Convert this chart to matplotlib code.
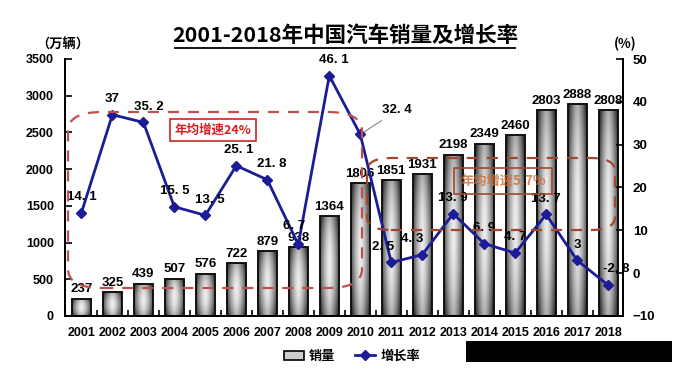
import numpy as np
import matplotlib.pyplot as plt
from matplotlib.patches import FancyBboxPatch, Patch, Rectangle
from matplotlib.lines import Line2D

years = [str(y) for y in range(2001, 2019)]
sales = [237, 325, 439, 507, 576, 722, 879, 938, 1364, 1806, 1851, 1931,
         2198, 2349, 2460, 2803, 2888, 2808]
growth = [14.1, 37, 35.2, 15.5, 13.5, 25.1, 21.8, 6.7, 46.1, 32.4, 2.5, 4.3,
          13.9, 6.9, 4.7, 13.7, 3, -2.8]

NUM = ['Liberation Sans', 'Noto Sans CJK SC']
CJK = ['Noto Sans CJK SC', 'DejaVu Sans']
plt.rcParams['font.family'] = NUM
plt.rcParams['font.weight'] = 'bold'

W, H = 685, 379
fig = plt.figure(figsize=(W / 100, H / 100), dpi=100)


def fx(px):
    return px / W


def fy(py):
    return 1 - py / H


ax = fig.add_axes([fx(65), fy(316), fx(623) - fx(65), fy(59) - fy(316)])
ax2 = ax.twinx()

x = np.arange(len(years))
bar_w = 0.61

# bars with grey gradient
bars = ax.bar(x, sales, bar_w, color='none', edgecolor='#111111',
              linewidth=1.4, zorder=3)
u = np.linspace(-1, 1, 60)
v = np.linspace(-1, 1, 80)
U, V = np.meshgrid(u, v)
shade = 0.93 - 0.6 * np.abs(U) ** 1.5 - 0.25 * np.abs(V) ** 2
for b in bars:
    im = ax.imshow(shade, cmap='gray', vmin=0, vmax=1, aspect='auto',
                   extent=[b.get_x(), b.get_x() + b.get_width(), 0, b.get_height()],
                   zorder=2)
    im.set_clip_path(b)

ax.set_xlim(-0.53, len(years) - 0.52)
ax.set_ylim(0, 3500)
ax.set_yticks(range(0, 3501, 500))
ax.set_xticks(x)
ax.set_xticklabels(years)
ax.set_xticks(x[:-1] + 0.5, minor=True)
ax.tick_params(axis='x', which='major', length=0, pad=8, labelsize=9)
ax.tick_params(axis='x', which='minor', direction='in', length=4, width=1.2)
ax.tick_params(axis='y', direction='in', length=5, width=1.2, pad=8, labelsize=9)

for s in ['top']:
    ax.spines[s].set_visible(False)
    ax2.spines[s].set_visible(False)
for s in ['left', 'right', 'bottom']:
    ax.spines[s].set_linewidth(1.4)
    ax2.spines[s].set_linewidth(1.4)

for xi, val in zip(x, sales):
    ax.text(xi, val + 45, str(val), ha='center', va='bottom', fontsize=9.5,
            zorder=5)

# growth line
ax2.plot(x, growth, color='#1c1c96', lw=2, marker='D', ms=5, zorder=6)
ax2.set_ylim(-10, 50)
ax2.set_yticks(range(-10, 51, 10))
ax2.tick_params(axis='y', direction='in', length=5, width=1.2, pad=7, labelsize=9.5)
ax2.set_zorder(ax.get_zorder() + 1)
ax2.patch.set_visible(False)

offsets = {0: (0, 4), 2: (4, 4), 4: (3, 4), 5: (2, 4), 6: (3, 4), 7: (-3, 6),
           8: (3, 4), 10: (-6, 4), 11: (-7, 4), 17: (6, 4)}
for i, g in enumerate(growth):
    lab = str(g).replace('.', '. ')
    if i == 9:
        ax2.annotate(lab, (x[i], g), xytext=(16, 13), textcoords='offset points',
                     ha='left', va='bottom', fontsize=9.5,
                     arrowprops=dict(arrowstyle='-', color='#888888', lw=0.8))
        continue
    dx, dy = offsets.get(i, (0, 4))
    ax2.annotate(lab, (x[i], g), xytext=(dx, dy + 3), textcoords='offset points',
                 ha='center', va='bottom', fontsize=9.5, zorder=7)

# dashed boxes and notes
red = '#c0504d'
box1 = FancyBboxPatch((fx(68), fy(288)), fx(362) - fx(68), fy(112) - fy(288),
                      boxstyle='round,pad=0,rounding_size=0.05',
                      transform=fig.transFigure, fill=False, ec=red,
                      ls=(0, (5, 4)), lw=1.6, zorder=10)
box2 = FancyBboxPatch((fx(367), fy(230)), fx(615) - fx(367), fy(158) - fy(230),
                      boxstyle='round,pad=0,rounding_size=0.035',
                      transform=fig.transFigure, fill=False, ec='#a0472e',
                      ls=(0, (5, 4)), lw=1.6, zorder=10)
fig.add_artist(box1)
fig.add_artist(box2)

fig.text(fx(213), fy(130), '年均增速24%', ha='center', va='center', fontsize=9,
         color='#d32020', family=CJK, fontweight='bold',
         bbox=dict(boxstyle='square,pad=0.35', fc='white', ec='#d32020', lw=1.2))
fig.text(fx(503), fy(181), '年均增速5.7%', ha='center', va='center', fontsize=9.5,
         color='#d0703a', family=CJK, fontweight='bold', alpha=0.85,
         bbox=dict(boxstyle='square,pad=0.45', fc='none', ec='#a0472e', lw=1.2))

# title and units
fig.text(fx(345), fy(35), '2001-2018年中国汽车销量及增长率', ha='center',
         va='center', fontsize=15.5, family=CJK, fontweight='bold')
fig.add_artist(Line2D([fx(175), fx(515)], [fy(48), fy(48)], color='black', lw=1.3,
                      transform=fig.transFigure))
fig.text(fx(63), fy(45), '（万辆）', ha='center', va='center', fontsize=9.5,
         family=CJK, fontweight='bold')
fig.text(fx(625), fy(44), '(%)', ha='center', va='center', fontsize=9.5,
         family=CJK, fontweight='bold')

# legend
handles = [Patch(fc='#cccccc', ec='black', lw=1.2, label='销量'),
           Line2D([], [], color='#1c1c96', lw=2, marker='D', ms=5, label='增长率')]
fig.legend(handles=handles, loc='center', bbox_to_anchor=(fx(352), fy(356)),
           ncol=2, frameon=False, prop={'family': CJK, 'size': 9.5, 'weight': 'bold'},
           handlelength=1.5, handletextpad=0.4, columnspacing=1.5)

# black block at bottom right
fig.add_artist(Rectangle((fx(466), fy(362)), fx(672) - fx(466), fy(341) - fy(362),
                         transform=fig.transFigure, fc='black', ec='none'))

fig.savefig('out.png', dpi=100)
